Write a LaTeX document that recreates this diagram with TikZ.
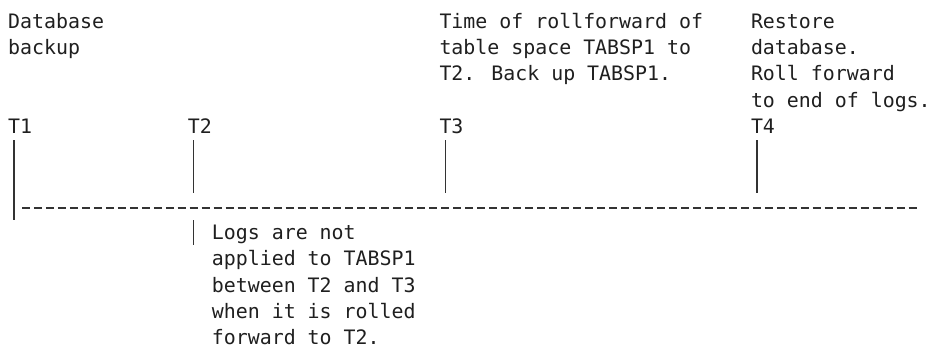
\documentclass[tikz,border=0pt]{standalone}
\usepackage{fontspec}
\newfontfamily\monofont{DejaVu Sans Mono}
\begin{document}
\begin{tikzpicture}[x=1pt,y=-1pt,
  txt/.style={anchor=base west, inner sep=0pt, align=left,
    font=\monofont\fontsize{19.9}{26.4}\selectfont, text=black!88},
  bar/.style={line width=1.5pt, draw=black!80},
  timeline/.style={line width=1.8pt, draw=black!80, dash pattern=on 8pt off 3.98pt}]
\useasboundingbox (0,0) rectangle (928,351);
% top notes (anchor at the baseline of the last line)
\node[txt] (nA) at (8,54.4) {Database\\backup};
\node[txt] (nB) at (439.3,80.8) {Time of rollforward of\\table space TABSP1 to\\T2. Back up TABSP1.};
\node[txt] (nC) at (750.8,107.2) {Restore\\database.\\Roll forward\\to end of logs.};
% time labels
\node[txt] (T1) at (8,133.6) {T1};
\node[txt] (T2) at (187.7,133.6) {T2};
\node[txt] (T3) at (439.3,133.6) {T3};
\node[txt] (T4) at (750.8,133.6) {T4};
% bar end points
\coordinate (b1a) at (14,140);   \coordinate (b1b) at (14,220);
\coordinate (b2a) at (193.7,140); \coordinate (b2b) at (193.7,193);
\coordinate (b3a) at (445.3,140); \coordinate (b3b) at (445.3,193);
\coordinate (b4a) at (756.8,140); \coordinate (b4b) at (756.8,193);
\coordinate (tla) at (22,208);   \coordinate (tlb) at (917,208);
\coordinate (lga) at (193.7,220); \coordinate (lgb) at (193.7,245);
\draw[bar] (b1a) -- (b1b);
\draw[bar] (b2a) -- (b2b);
\draw[bar] (b3a) -- (b3b);
\draw[bar] (b4a) -- (b4b);
\draw[timeline] (tla) -- (tlb);
\draw[bar] (lga) -- (lgb);
% bottom note
\node[txt] (nD) at (211.7,344.8) {Logs are not\\applied to TABSP1\\between T2 and T3\\when it is rolled\\forward to T2.};
\end{tikzpicture}
\end{document}
